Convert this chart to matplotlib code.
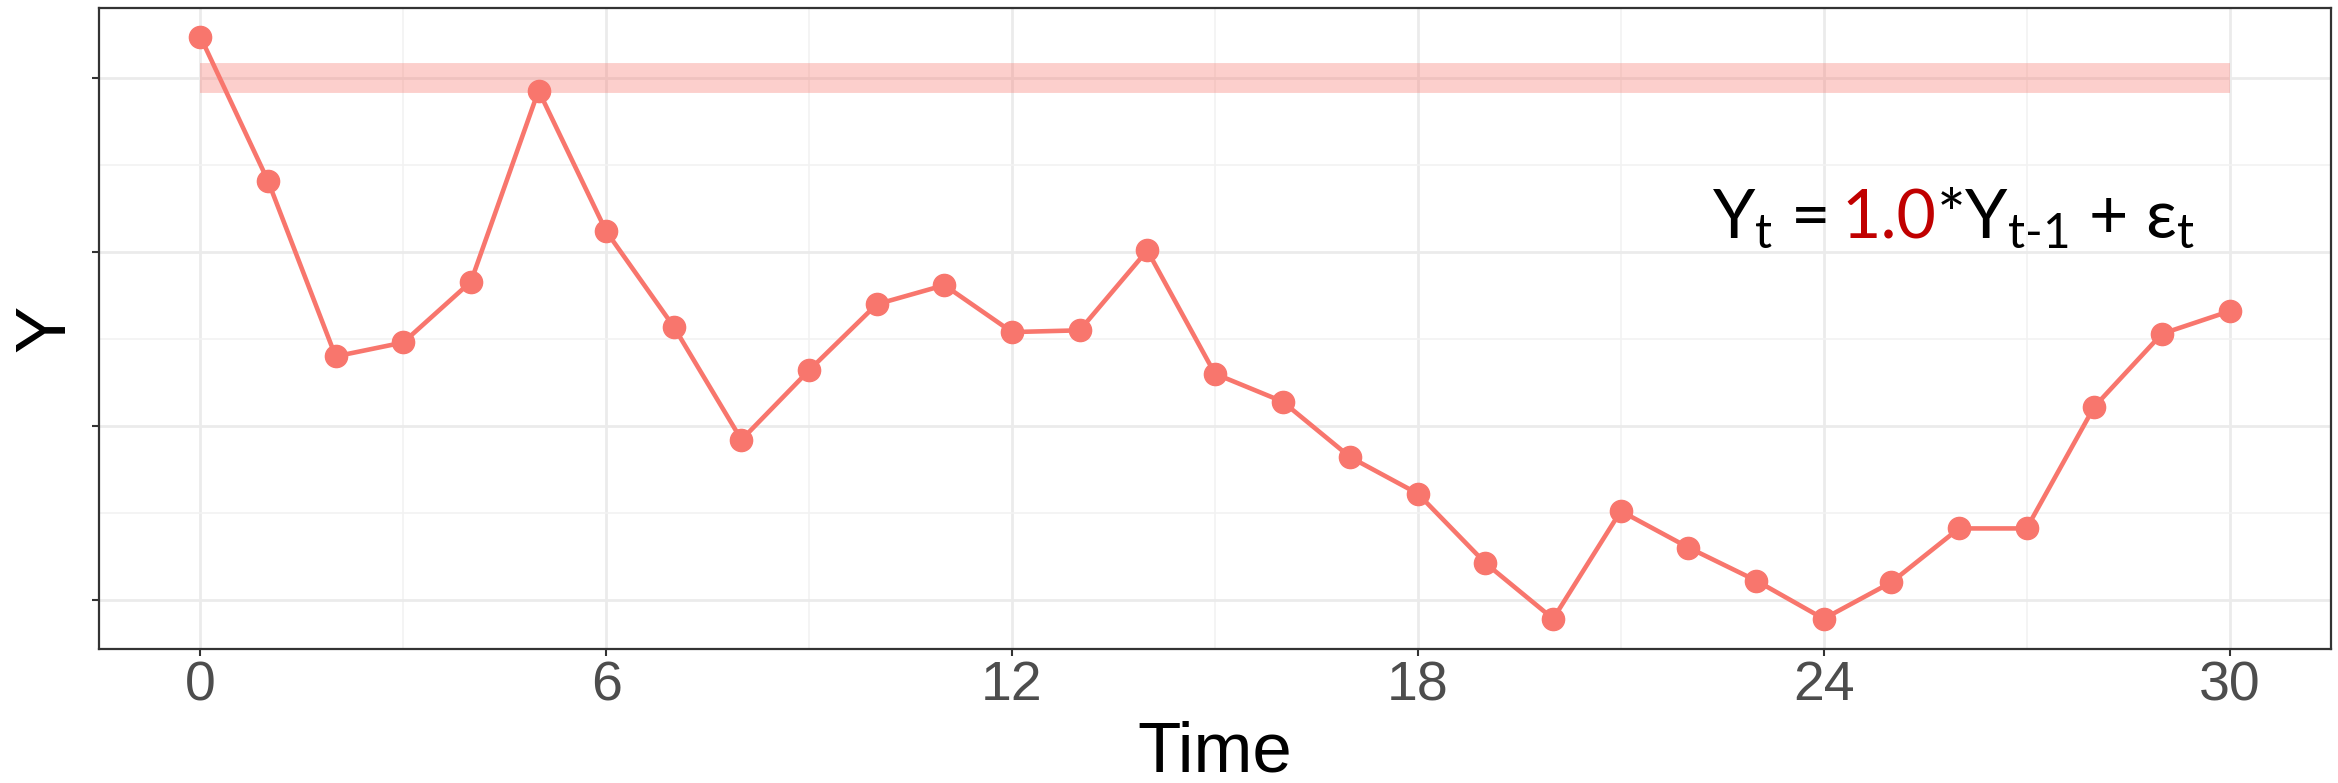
import matplotlib
matplotlib.use("Agg")
import matplotlib.pyplot as plt
from matplotlib.offsetbox import TextArea, HPacker, AnnotationBbox

plt.rcParams["font.family"] = ["Liberation Sans", "DejaVu Sans"]
# math pieces of the equation drawn upright in Lato
plt.rcParams["mathtext.fontset"] = "custom"
plt.rcParams["mathtext.rm"] = "Lato"
plt.rcParams["mathtext.it"] = "Lato"
plt.rcParams["mathtext.sf"] = "Lato"
plt.rcParams["mathtext.bf"] = "Lato:bold"

# data (y in arbitrary units, grid step 0.5)
time = list(range(31))
y = [3.24, 2.41, 1.40, 1.48, 1.83, 2.93, 2.12, 1.57, 0.92, 1.32,
     1.70, 1.81, 1.54, 1.55, 2.01, 1.30, 1.14, 0.82, 0.61, 0.21,
     -0.11, 0.51, 0.30, 0.11, -0.11, 0.10, 0.41, 0.41, 1.11, 1.53,
     1.66]
band_level = 3.0
phi = "1.0"

LINE_COL = "#F8766D"

fig = plt.figure(figsize=(23.38, 7.83), dpi=100)
ax = fig.add_axes([0.0423, 0.1711, 0.9547, 0.8187])

# thick pale band at the reference level
ax.plot([time[0], time[-1]], [band_level, band_level], color=LINE_COL,
        alpha=0.35, lw=21.5, solid_capstyle="butt", zorder=2)

ax.plot(time, y, color=LINE_COL, lw=3.3, marker="o", markersize=16,
        zorder=3)

ax.set_xlim(-1.5, 31.5)
ax.set_ylim(-0.284, 3.405)
ax.set_xticks([0, 6, 12, 18, 24, 30])
ax.set_xticks([3, 9, 15, 21, 27], minor=True)
ax.set_yticks([0, 1, 2, 3])
ax.set_yticks([0.5, 1.5, 2.5], minor=True)
ax.set_yticklabels([])

ax.grid(True, which="major", color="#EBEBEB", lw=2.0, zorder=0)
ax.grid(True, which="minor", color="#F2F2F2", lw=1.2, zorder=0)
ax.set_axisbelow(True)

for s in ax.spines.values():
    s.set_color("#333333")
    s.set_linewidth(1.6)

ax.tick_params(which="major", length=5, width=1.5, color="#333333",
               labelsize=40, labelcolor="#4D4D4D", pad=3)
ax.tick_params(which="minor", length=0)

ax.set_xlabel("Time", fontsize=51, labelpad=6)
ax.set_ylabel("Y", fontsize=51, labelpad=6)

# equation annotation with the coefficient in red
fs = 49
tp = dict(fontsize=fs, family="Lato", color="black")
left = TextArea(r"$Y_{t}$ =", textprops=tp)
right = HPacker(children=[
    TextArea(phi, textprops=dict(tp, color="#C00000")),
    TextArea("*$Y_{\\text{t-1}}$ + $\u03b5_{t}$", textprops=tp),
], align="baseline", pad=0, sep=0)
box = HPacker(children=[left, right], align="baseline", pad=0, sep=10)
ab = AnnotationBbox(box, (22.35, 2.01), xycoords="data", box_alignment=(0, 0),
                    frameon=False, pad=0)
ax.add_artist(ab)

fig.savefig("out.png", dpi=100)
